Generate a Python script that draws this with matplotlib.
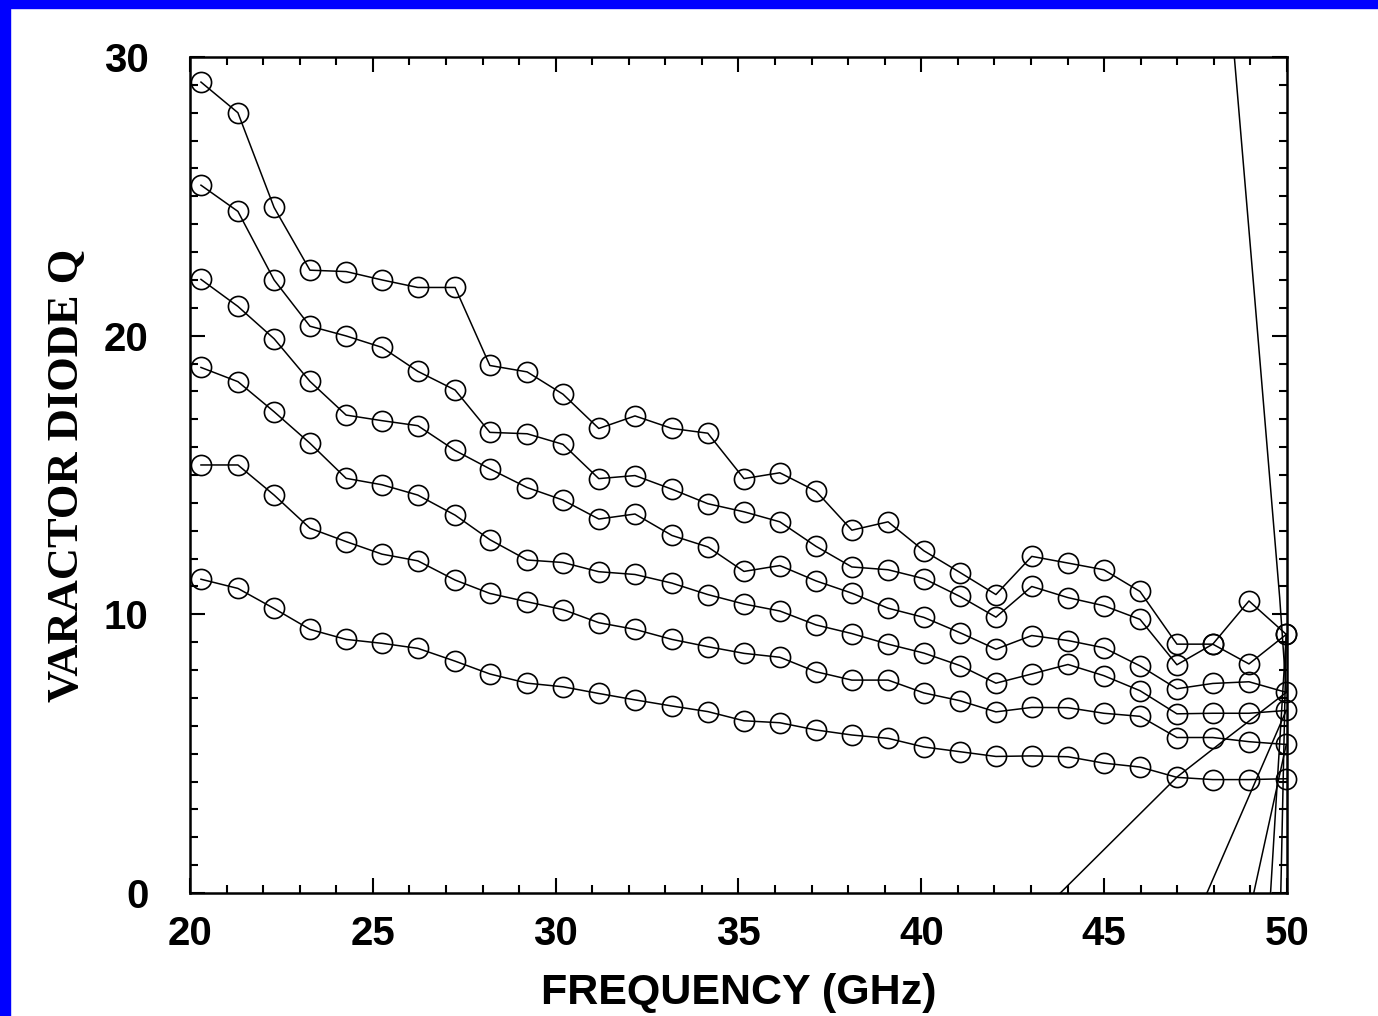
import matplotlib
matplotlib.use('Agg')
import matplotlib.pyplot as plt
from matplotlib.patches import Rectangle
from matplotlib.ticker import MultipleLocator

# frequencies (GHz) of the measured points
freq = [20.3, 21.31, 22.3, 23.28, 24.27, 25.25, 26.23, 27.25, 28.2, 29.22, 30.2,
        31.18, 32.17, 33.18, 34.16, 35.15, 36.13, 37.12, 38.1, 39.09, 40.07,
        41.06, 42.04, 43.02, 44.01, 44.99, 45.98, 46.99, 47.97, 48.96, 49.98]

# varactor Q, one curve per bias
q1 = [29.1, 28.0, 24.6, 22.35, 22.3, 22.0, 21.73, 21.73, 18.93, 18.7, 17.9,
      16.67, 17.12, 16.67, 16.5, 14.87, 15.08, 14.42, 13.02, 13.32, 12.28,
      11.5, 10.71, 12.08, 11.84, 11.6, 10.82, 8.93, 8.93, 10.48, 9.28]
q2 = [25.4, 24.46, 22.0, 20.34, 19.99, 19.58, 18.72, 18.05, 16.53, 16.48, 16.1,
      14.87, 14.98, 14.49, 13.97, 13.68, 13.32, 12.44, 11.7, 11.6, 11.28,
      10.64, 9.9, 11.0, 10.6, 10.31, 9.82, 8.19, 8.93, 8.22, 9.28]
q3 = [22.02, 21.05, 19.89, 18.36, 17.15, 16.95, 16.77, 15.88, 15.22, 14.55, 14.1,
      13.42, 13.6, 12.83, 12.42, 11.54, 11.75, 11.2, 10.76, 10.22, 9.89,
      9.34, 8.75, 9.24, 9.06, 8.8, 8.15, 7.33, 7.52, 7.58, 7.2]
q4 = [18.86, 18.35, 17.27, 16.14, 14.88, 14.65, 14.28, 13.56, 12.68, 11.95, 11.86,
      11.53, 11.43, 11.12, 10.71, 10.37, 10.12, 9.62, 9.31, 8.93, 8.61,
      8.16, 7.53, 7.86, 8.2, 7.8, 7.26, 6.43, 6.45, 6.45, 6.55]
q5 = [15.36, 15.36, 14.28, 13.09, 12.61, 12.16, 11.92, 11.23, 10.75, 10.45, 10.17,
      9.7, 9.46, 9.1, 8.84, 8.6, 8.46, 7.94, 7.64, 7.64, 7.18,
      6.9, 6.5, 6.66, 6.65, 6.45, 6.34, 5.58, 5.58, 5.43, 5.33]
q6 = [11.26, 10.93, 10.21, 9.46, 9.1, 8.96, 8.78, 8.32, 7.86, 7.53, 7.4,
      7.16, 6.93, 6.71, 6.51, 6.18, 6.11, 5.85, 5.67, 5.55, 5.24,
      5.07, 4.9, 4.92, 4.89, 4.66, 4.52, 4.15, 4.07, 4.07, 4.1]
curves = [q1, q2, q3, q4, q5, q6]

# stray trace segments leaving the last points (run off the plot area)
tail_x = [[49.98, 48.35, 47.0, 43.8, 43.5],
          [49.98, 47.81, 47.7],
          [49.98, 49.09, 49.05],
          [49.98, 49.55, 49.53],
          [49.98, 49.83, 49.82],
          [49.98, 49.8, 49.12, 48.56, 48.5]]
tail_y = [[7.2, 5.55, 4.17, 0.0, -0.4],
          [6.55, 0.0, -0.3],
          [5.33, 0.0, -0.3],
          [9.28, 0.0, -0.3],
          [9.28, 0.0, -0.3],
          [7.2, 10.6, 21.3, 30.0, 31.0]]

fig = plt.figure(figsize=(13.78, 10.16), dpi=100)
fig.patch.set_facecolor('white')
# blue frame strips at left and top
fig.patches.append(Rectangle((0, 0), 10 / 1378, 1, transform=fig.transFigure,
                             color='#0000FF', zorder=0))
fig.patches.append(Rectangle((0, 1 - 8 / 1016), 1, 8 / 1016, transform=fig.transFigure,
                             color='#0000FF', zorder=0))

ax = fig.add_axes([190 / 1378, 123 / 1016, 1097 / 1378, 836 / 1016])

for q in curves:
    ax.plot(freq, q, color='black', linewidth=1.1, marker='o', markersize=14.5,
            markerfacecolor='none', markeredgecolor='black', markeredgewidth=1.2,
            clip_on=False)
for tx, ty in zip(tail_x, tail_y):
    ax.plot(tx, ty, color='black', linewidth=1.1)

ax.set_xlim(20, 50)
ax.set_ylim(0, 30)
ax.xaxis.set_major_locator(MultipleLocator(5))
ax.xaxis.set_minor_locator(MultipleLocator(1))
ax.yaxis.set_major_locator(MultipleLocator(10))
ax.yaxis.set_minor_locator(MultipleLocator(1))
ax.tick_params(which='both', direction='in', top=True, right=True, width=1.5, colors='black')
ax.tick_params(which='major', length=11)
ax.tick_params(which='minor', length=6)
ax.tick_params(axis='x', which='major', pad=16)
ax.tick_params(axis='y', which='major', pad=30)
for s in ax.spines.values():
    s.set_linewidth(1.8)

for lab in ax.get_xticklabels() + ax.get_yticklabels():
    lab.set_family(['Liberation Sans', 'DejaVu Sans'])
    lab.set_fontweight('bold')
    lab.set_fontsize(29)

ax.set_xlabel('FREQUENCY (GHz)', family=['Liberation Sans', 'DejaVu Sans'],
              fontweight='bold', fontsize=31, labelpad=14)
ax.set_ylabel('VARACTOR DIODE Q', family=['Liberation Serif', 'DejaVu Serif'],
              fontweight='bold', fontsize=32, labelpad=12)

fig.savefig('out.png', dpi=100)
